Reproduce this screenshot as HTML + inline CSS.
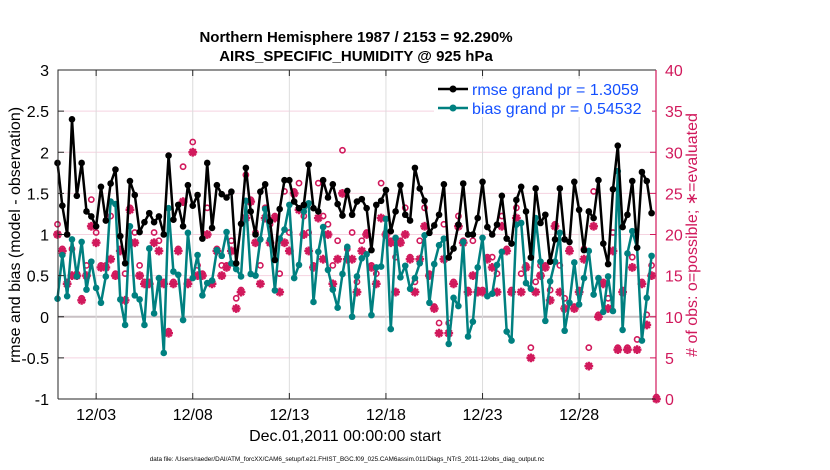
<!DOCTYPE html>
<html><head><meta charset="utf-8">
<style>
body{margin:0;background:#fff;}
svg{display:block;font-family:"Liberation Sans",Arial,sans-serif;}
</style></head>
<body>
<svg id="chart" width="830" height="470" viewBox="0 0 830 470" xmlns="http://www.w3.org/2000/svg">
<rect width="830" height="470" fill="#fff"/>
<text x="356" y="42" font-size="15" font-weight="bold" text-anchor="middle">Northern Hemisphere 1987 / 2153 = 92.290%</text>
<text x="356" y="61" font-size="15" font-weight="bold" text-anchor="middle">AIRS_SPECIFIC_HUMIDITY @ 925 hPa</text>
<g id="grid"></g>
<g id="marks"></g>
<g id="axes"></g>
<text transform="translate(20,235) rotate(-90)" font-size="16" text-anchor="middle">rmse and bias (model - observation)</text>
<text transform="translate(697,235) rotate(-90)" font-size="16" text-anchor="middle" fill="#d1195c"># of obs: o=possible; ∗=evaluated</text>
<text x="345" y="441" font-size="16" text-anchor="middle">Dec.01,2011 00:00:00 start</text>
<text x="347" y="461" font-size="6.3" text-anchor="middle">data file: /Users/raeder/DAI/ATM_forcXX/CAM6_setup/f.e21.FHIST_BGC.f09_025.CAM6assim.011/Diags_NTrS_2011-12/obs_diag_output.nc</text>
<g>
<rect x="434" y="79" width="218" height="38" fill="#fff"/>
<g>
<line x1="438" y1="89" x2="468" y2="89" stroke="#000" stroke-width="2.5"/><circle cx="453" cy="89" r="3.5" fill="#000"/>
<text x="472" y="95" font-size="16" fill="#1450ff">rmse grand pr = 1.3059</text></g>
<g>
<line x1="438" y1="108" x2="468" y2="108" stroke="#008080" stroke-width="2.5"/><circle cx="453" cy="108" r="3.5" fill="#008080"/>
<text x="472" y="114" font-size="16" fill="#1450ff">bias grand pr = 0.54532</text></g>
</g>
</svg>
<script>
const rmse=[1.87,1.35,1.0,2.4,1.47,1.87,1.28,1.22,1.1,1.58,1.17,1.62,1.79,0.98,0.65,1.65,1.48,1.03,1.15,1.26,1.15,1.22,1.0,1.96,1.18,1.36,1.10,1.6,1.35,1.48,0.95,1.87,1.08,1.6,1.49,1.45,1.52,0.65,1.13,1.81,1.28,1.0,1.52,1.61,1.16,0.69,1.31,1.66,1.66,1.4,1.32,1.36,1.85,1.32,1.28,1.66,1.45,1.61,1.37,1.23,1.53,1.24,1.4,1.43,1.32,0.81,1.36,1.41,1.54,1.04,1.28,1.6,1.24,1.17,1.81,1.56,1.41,1.02,1.11,1.24,1.61,0.72,0.83,1.12,1.62,1.0,1.0,1.2,1.64,1.09,1.0,1.12,1.47,0.95,0.89,1.42,1.58,1.28,0.72,1.56,1.14,1.24,0.67,0.94,1.56,0.94,0.91,1.64,1.3,0.81,1.28,1.2,1.66,0.89,0.64,1.55,2.08,1.09,1.24,1.65,0.84,1.76,1.65,1.26];
const bias=[0.22,0.75,0.25,0.94,0.49,0.91,0.33,0.67,0.35,0.17,0.49,1.4,1.37,0.21,-0.1,1.1,0.26,0.21,-0.1,0.83,0.04,0.47,-0.44,1.32,0.55,0.51,-0.04,1.02,0.47,0.75,0.26,0.41,0.44,0.81,0.74,1.03,0.65,0.58,0.49,1.41,0.52,0.5,0.94,1.31,0.94,0.32,0.95,1.06,1.36,0.47,0.63,1.28,1.38,0.18,0.79,1.09,0.57,0.33,0.11,0.52,0.85,0.0,0.49,0.71,0.76,0.02,0.6,0.61,1.19,-0.15,0.96,0.48,0.62,0.34,0.47,0.65,0.99,0.17,0.64,0.87,0.95,-0.33,0.23,0.13,0.91,-0.24,-0.06,0.6,0.96,0.25,0.28,0.63,0.79,-0.18,-0.29,1.12,1.14,0.41,0.34,1.2,0.67,-0.05,0.43,0.67,1.02,-0.17,0.17,0.66,0.15,0.47,0.8,0.27,0.47,0.06,0.49,0.07,1.77,-0.16,0.77,1.04,0.84,-0.29,0.23,0.74];
const obsUsed=[20,18,14,15,15,12,15,21,19,16,16,17,15,18,12,23,19,15,14,14,19,18,14,8,14,18,24,14,30,15,15,20,14,18,15,16,18,11,13,22,24,19,14,22,19,22,13,19,18,25,23,20,18,16,22,17,20,14,17,25,17,17,13,18,20,16,14,22,20,19,13,19,20,17,13,17,21,15,11,8,17,8,14,21,19,13,15,13,13,17,16,13,21,18,13,22,13,16,5,13,15,16,12,21,13,11,18,11,13,17,4,21,10,14,11,18,6,13,6,16,6,14,9,15,0];
const obsPossible=[21,18,14,18,15,12,16,24,20,16,16,22,15,18,15,23,20,16,14,14,20,19,14,8,14,18,28,14,31,16,15,23,14,18,16,16,19,12,13,27,24,20,16,23,21,22,15,25,20,25,26,22,20,16,26,22,21,16,19,30,18,20,14,19,20,16,15,26,20,19,17,19,23,17,14,19,23,15,11,9,21,9,14,22,19,13,19,13,13,17,17,15,22,18,13,23,15,16,6,14,16,16,13,21,16,12,18,11,13,18,6,25,10,14,12,20,6,13,6,17,7,14,10,16,0];
const yTicks=[3,2.5,2,1.5,1,0.5,0,-0.5,-1];
const yTickLabels=["3","2.5","2","1.5","1","0.5","0","-0.5","-1"];
const y2Ticks=[0,5,10,15,20,25,30,35,40];
const xTickDays=[2,7,12,17,22,27];
const xTickLabels=["12/03","12/08","12/13","12/18","12/23","12/28"];

const NS="http://www.w3.org/2000/svg";
const L=58,R=656,T=70,B=399;
const X0=57.5,DX=4.83;
function xIdx(i){return X0+DX*i;}
function xDay(d){return X0+DX*4*d;}
function yL(v){return B-(v+1)/4*(B-T);}
function yR(v){return B-v/40*(B-T);}
function mk(tag,attrs,parent){const e=document.createElementNS(NS,tag);for(const k in attrs)e.setAttribute(k,attrs[k]);parent.appendChild(e);return e;}
const grid=document.getElementById('grid'),marks=document.getElementById('marks'),axes=document.getElementById('axes');
const MAG="#d1195c";

yTicks.forEach((v,k)=>{
  const g=mk('line',{x1:L,x2:R,y1:yL(v),y2:yL(v),stroke:v===0?'#c8c0c4':'#f5d3e0','stroke-width':v===0?2:1},grid);
  
  
  const t=mk('text',{x:L-9,y:yL(v)+6,'font-size':16,'text-anchor':'end'},axes);
  t.textContent=yTickLabels[k];
  
  
  const tk=mk('line',{x1:L,x2:L+6,y1:yL(v),y2:yL(v),stroke:'#262626'},axes);
  
  
});
xTickDays.forEach((d,k)=>{
  const g=mk('line',{x1:xDay(d),x2:xDay(d),y1:T,y2:B,stroke:'#dcdcdc','stroke-width':1},grid);
  
  
  const t=mk('text',{x:xDay(d),y:B+21,'font-size':16,'text-anchor':'middle'},axes);
  t.textContent=xTickLabels[k];
  
  
  const tk=mk('line',{x1:xDay(d),x2:xDay(d),y1:B,y2:B-6,stroke:'#262626'},axes);
  
  
  const tk2=mk('line',{x1:xDay(d),x2:xDay(d),y1:T,y2:T+6,stroke:'#262626'},axes);
  
  
});
y2Ticks.forEach(v=>{
  const tk=mk('line',{x1:R-6,x2:R,y1:yR(v),y2:yR(v),stroke:MAG},axes);
  
  
  const t=mk('text',{x:R+9,y:yR(v)+6,'font-size':16,fill:MAG},axes);
  t.textContent=String(v);
  
  
});
const frame=mk('path',{d:`M${L},${B}L${L},${T}L${R},${T}M${L},${B}L${R},${B}`,fill:'none',stroke:'#262626','stroke-width':1},axes);


const rAxis=mk('line',{x1:R,x2:R,y1:T,y2:B,stroke:MAG,'stroke-width':1.2},axes);



obsPossible.forEach((v,i)=>{
  const c=mk('circle',{cx:xIdx(i),cy:yR(v)-2,r:2.6,fill:'none',stroke:MAG,'stroke-width':1.6},marks);
  
  
});
obsUsed.forEach((v,i)=>{
  const x=xIdx(i),y=yR(v),s=4.4;
  const p=mk('path',{d:`M${x-s},${y}H${x+s}M${x},${y-s}V${y+s}M${x-3.1},${y-3.1}L${x+3.1},${y+3.1}M${x-3.1},${y+3.1}L${x+3.1},${y-3.1}`,stroke:MAG,'stroke-width':2.4},marks);
  
  
});
function series(arr,color,name){
  const d=arr.map((v,i)=>(i?'L':'M')+xIdx(i).toFixed(1)+','+yL(v).toFixed(1)).join('');
  const p=mk('path',{d:d,fill:'none',stroke:color,'stroke-width':2.5,'stroke-linejoin':'round'},marks);
  
  
  arr.forEach((v,i)=>{
    const c=mk('circle',{cx:xIdx(i),cy:yL(v),r:3.3,fill:color},marks);
    
    
  });
}
series(bias,'#008080','bias');
series(rmse,'#000000','rmse');
</script>
</body></html>
